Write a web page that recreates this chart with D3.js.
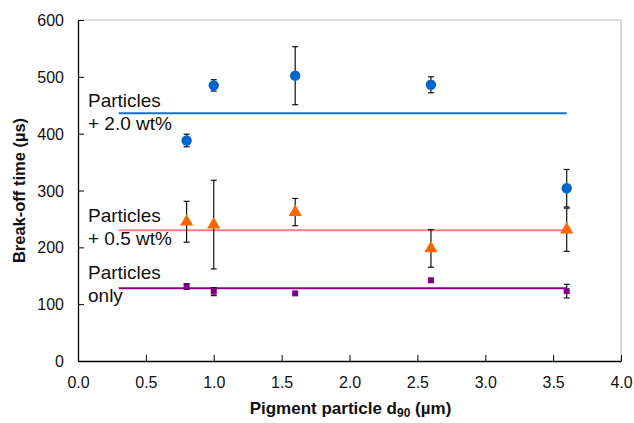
<!DOCTYPE html>
<html><head><meta charset="utf-8">
<script src="https://cdn.jsdelivr.net/npm/d3@7"></script>
<style>body{margin:0;background:#fff}svg{display:block;font-family:"Liberation Sans",Arial,sans-serif}</style>
</head><body><svg id="c" width="634" height="423"></svg>
<script>
const xTicks = [0,0.5,1,1.5,2,2.5,3,3.5,4];
const yTicks = [0,100,200,300,400,500,600];
const d90 = [0.8,1.0,1.6,2.6,3.6];
const wt20 = [388,485,502,486,304];
const wt20Err = [11,10,51,14,33];
const wt05 = [245,240,262,198,231];
const wt05Err = [36,78,24,33,38];
const only = [131,122,119,142,123];
const onlyErr = [5,7,0,0,12];
const fitX = [0.3,3.6];
const fitY = [436,230,128];
const labels = [["Particles","+ 2.0 wt%"],["Particles","+ 0.5 wt%"],["Particles","only"]];

const svg = d3.select("#c");
const L=78,R=621,T=20,B=361;
const x = d3.scaleLinear().domain([0,4]).range([L,R]);
const y = d3.scaleLinear().domain([0,600]).range([B,T]);

// frame
svg.append("path").attr("d",`M${L},${T}H${R}V${B}`).attr("fill","none").attr("stroke","#bfbfbf").attr("stroke-width",1.2);

const xa = svg.append("g").attr("transform",`translate(0,${B})`)
  .call(d3.axisBottom(x).tickValues(xTicks).tickSizeInner(-6).tickSizeOuter(0).tickPadding(16).tickFormat(d3.format(".1f")));
const ya = svg.append("g").attr("transform",`translate(${L},0)`)
  .call(d3.axisLeft(y).tickValues(yTicks).tickSizeInner(-6).tickSizeOuter(0).tickPadding(14));
[xa,ya].forEach(a=>{a.select(".domain").attr("stroke","#000").attr("stroke-width",1.3);
  a.selectAll(".tick line").attr("stroke","#000");
  a.selectAll("text").attr("font-size",16).attr("fill","#111").attr("font-family","Liberation Sans, Arial, sans-serif");});
ya.selectAll(".tick text").attr("dy","0.35em");

// fit lines
const lineCols = ["#1a6dcc","#ff8080","#8b008b"];
fitY.forEach((v,i)=>{
  svg.append("line").attr("x1",x(fitX[0])).attr("x2",x(fitX[1])).attr("y1",y(v)).attr("y2",y(v))
    .attr("stroke",lineCols[i]).attr("stroke-width",2);
});

// error bars
function errs(vals,err){
  const g = svg.append("g").attr("stroke","#111").attr("stroke-width",1.2);
  d90.forEach((d,i)=>{
    if(!err[i]) return;
    const xx=x(d), y1=y(vals[i]-err[i]), y2=y(vals[i]+err[i]);
    g.append("line").attr("x1",xx).attr("x2",xx).attr("y1",y1).attr("y2",y2);
    g.append("line").attr("x1",xx-3).attr("x2",xx+3).attr("y1",y1).attr("y2",y1);
    g.append("line").attr("x1",xx-3).attr("x2",xx+3).attr("y1",y2).attr("y2",y2);
  });
}
errs(wt20,wt20Err); errs(wt05,wt05Err); errs(only,onlyErr);

// markers
svg.append("g").selectAll("circle").data(d90).join("circle")
  .attr("cx",d=>x(d)).attr("cy",(d,i)=>y(wt20[i])).attr("r",5.2).attr("fill","#0066cc");
svg.append("g").selectAll("path").data(d90).join("path")
  .attr("transform",(d,i)=>`translate(${x(d)},${y(wt05[i])})`)
  .attr("d",d3.symbol(d3.symbolTriangle,75)).attr("fill","#ff6600");
svg.append("g").selectAll("rect").data(d90).join("rect")
  .attr("x",d=>x(d)-3).attr("y",(d,i)=>y(only[i])-3).attr("width",6).attr("height",6).attr("fill","#800080");

// labels
const labY = [[106.5,130],[221.5,245],[279,302]];
labels.forEach((ls,i)=>ls.forEach((t,j)=>{
  svg.append("text").attr("x",88).attr("y",labY[i][j]).attr("font-size",19).attr("fill","#111").text(t);
}));

// axis titles
const xt = svg.append("text").attr("x",(L+R)/2+1).attr("y",414).attr("text-anchor","middle")
  .attr("font-size",17).attr("font-weight","bold").attr("fill","#111");
xt.append("tspan").text("Pigment particle d");
xt.append("tspan").attr("font-size",12).attr("dy",3).text("90");
xt.append("tspan").attr("dy",-3).text(" (µm)");
svg.append("text").attr("transform",`translate(25,${(T+B)/2}) rotate(-90)`).attr("text-anchor","middle")
  .attr("font-size",16.5).attr("font-weight","bold").attr("fill","#111").text("Break-off time (µs)");
</script></body></html>
